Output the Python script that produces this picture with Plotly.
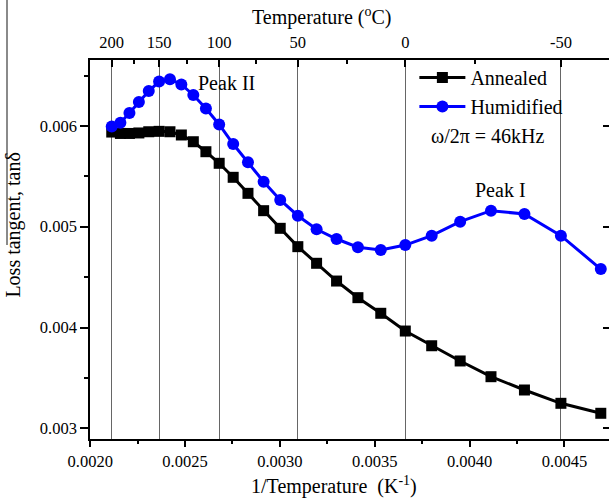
import plotly.graph_objects as go

# Measurement temperatures (deg C)
temp_c = [200, 190, 180, 170, 160, 150, 140, 130, 120, 110, 100, 90, 80, 70, 60,
          50, 40, 30, 20, 10, 0, -10, -20, -30, -40, -50, -60]

annealed = [0.005939, 0.005925, 0.005925, 0.005930, 0.005942, 0.005946, 0.005942,
            0.005910, 0.005843, 0.005744, 0.005629, 0.005490, 0.005331, 0.005159,
            0.004984, 0.004802, 0.004637, 0.004461, 0.004296, 0.004141, 0.003965,
            0.003819, 0.003668, 0.003512, 0.003380, 0.003248, 0.003149]

humidified = [0.005994, 0.006032, 0.006128, 0.006237, 0.006346, 0.006440, 0.006462,
              0.006411, 0.006307, 0.006173, 0.006014, 0.005820, 0.005639, 0.005446,
              0.005265, 0.005109, 0.004974, 0.004878, 0.004796, 0.004769, 0.004818,
              0.004911, 0.005050, 0.005159, 0.005126, 0.004911, 0.004580]

top_major_c = [200, 150, 100, 50, 0, -50]
top_minor_c = [175, 125, 75, 25, -25]

inv_t = [1.0 / (t + 273.15) for t in temp_c]
top_major_v = [1.0 / (t + 273.15) for t in top_major_c]
top_minor_v = [1.0 / (t + 273.15) for t in top_minor_c]

FONT = "Liberation Serif"
XR = [0.0019989, 0.0047348]
YR = [0.0028939, 0.0066538]

fig = go.Figure()
fig.add_trace(go.Scatter(
    x=inv_t, y=annealed, name="Annealed", mode="lines+markers",
    line=dict(color="black", width=3),
    marker=dict(symbol="square", size=11, color="black"),
))
fig.add_trace(go.Scatter(
    x=inv_t, y=humidified, name="Humidified", mode="lines+markers",
    line=dict(color="#0000ff", width=3),
    marker=dict(symbol="circle", size=12, color="#0000ff"),
))
# invisible trace to activate top / right axes
fig.add_trace(go.Scatter(x=[XR[0]], y=[YR[0]], xaxis="x2", yaxis="y2",
                         mode="markers", marker=dict(opacity=0), showlegend=False,
                         hoverinfo="skip"))

tickfont = dict(family=FONT, size=16.5, color="black")

fig.update_layout(
    width=609, height=498,
    margin=dict(l=90, r=0, t=60, b=59),
    paper_bgcolor="white", plot_bgcolor="white",
    font=dict(family=FONT, color="black"),
    showlegend=True,
    legend=dict(x=0.625, y=1.005, xanchor="left", yanchor="top",
                bgcolor="rgba(0,0,0,0)", font=dict(family=FONT, size=20),
                itemwidth=46, tracegroupgap=0),
    xaxis=dict(range=XR, showgrid=False, zeroline=False,
               showline=True, linecolor="black", linewidth=1.5,
               tickmode="linear", tick0=0.002, dtick=0.0005, tickformat=".4f",
               ticks="outside", ticklen=6, tickwidth=1.5, tickcolor="black",
               tickfont=tickfont,
               minor=dict(dtick=0.00025, tick0=0.002, ticks="outside", ticklen=3,
                          tickwidth=1.5, tickcolor="black")),
    xaxis2=dict(range=XR, overlaying="x", side="top", anchor="y",
                showline=True, linecolor="black", linewidth=1.5,
                tickmode="array", tickvals=top_major_v,
                ticktext=[str(t) for t in top_major_c],
                ticks="inside", ticklen=7, tickwidth=1.5, tickcolor="black",
                tickfont=tickfont, ticklabelstandoff=4,
                showgrid=True, gridcolor="#666666", gridwidth=1, zeroline=False,
                minor=dict(tickmode="array", tickvals=top_minor_v, ticks="inside",
                           ticklen=4, tickwidth=1.5, tickcolor="black",
                           showgrid=False)),
    yaxis=dict(range=YR, showgrid=False, zeroline=False,
               showline=True, linecolor="black", linewidth=1.5,
               tickmode="linear", tick0=0.003, dtick=0.001, tickformat=".3f",
               ticks="outside", ticklen=8, tickwidth=1.5, tickcolor="black",
               tickfont=tickfont,
               minor=dict(dtick=0.0005, tick0=0.003, ticks="outside", ticklen=4,
                          tickwidth=1.5, tickcolor="black")),
    yaxis2=dict(range=YR, overlaying="y", side="right", anchor="x",
                showline=True, linecolor="black", linewidth=1.5,
                tickmode="linear", tick0=0.003, dtick=0.001,
                ticks="inside", ticklen=6, tickwidth=1.5, tickcolor="black",
                showticklabels=False, showgrid=False, zeroline=False),
)

ann_font = dict(family=FONT, size=20, color="black")
fig.add_annotation(text="1/Temperature  (K<sup>-1</sup>)", xref="paper", yref="paper",
                   x=0.470, y=-0.1214, xanchor="center", yanchor="middle",
                   showarrow=False, font=ann_font)
fig.add_annotation(text="Temperature (<sup>o</sup>C)", xref="paper", yref="paper",
                   x=0.447, y=1.1135, xanchor="center", yanchor="middle",
                   showarrow=False, font=ann_font)
fig.add_annotation(text="Loss tangent, tanδ", xref="paper", yref="paper",
                   x=-0.1474, y=0.567, xanchor="center", yanchor="middle",
                   textangle=-90, showarrow=False, font=ann_font)
fig.add_annotation(text="ω/2π = 46kHz", xref="paper", yref="paper",
                   x=(488 - 90) / 519, y=(439 - 136) / 379, xanchor="center",
                   yanchor="middle", showarrow=False, font=ann_font)
fig.add_annotation(text="Peak I", xref="paper", yref="paper",
                   x=(500 - 90) / 519, y=(439 - 190) / 379, xanchor="center",
                   yanchor="middle", showarrow=False, font=ann_font)
fig.add_annotation(text="Peak II", xref="paper", yref="paper",
                   x=(226.5 - 90) / 519, y=(439 - 82.7) / 379, xanchor="center",
                   yanchor="middle", showarrow=False, font=ann_font)

# grey stray line at left edge of the reference image
fig.add_shape(type="line", xref="paper", yref="paper",
              x0=(7 - 90) / 519, x1=(7 - 90) / 519,
              y0=(439 - 0) / 379, y1=(439 - 245) / 379,
              line=dict(color="#8a8a8a", width=2))

fig.write_html("out.html",
               config={"displayModeBar": False},
               post_script="document.body.style.margin='0px';"
                           "document.body.style.overflow='hidden';")
